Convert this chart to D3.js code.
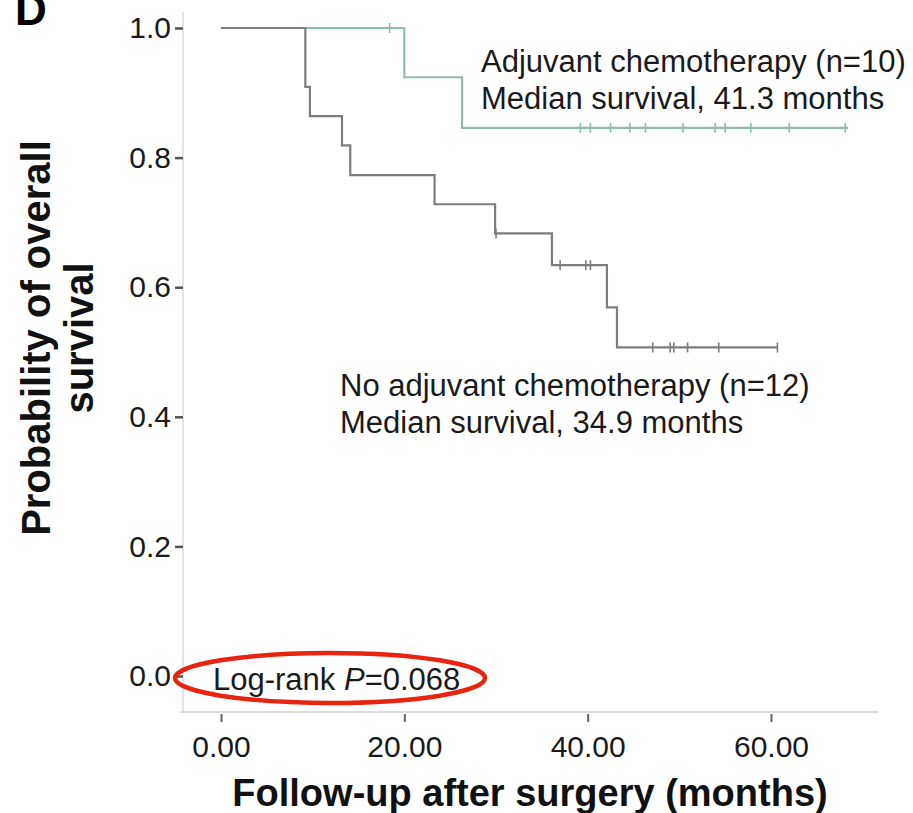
<!DOCTYPE html>
<html>
<head>
<meta charset="utf-8">
<script src="https://cdn.jsdelivr.net/npm/d3@7"></script>
<style>
  html, body { margin: 0; padding: 0; background: #fff; }
  svg { display: block; font-family: "Liberation Sans", Arial, sans-serif; }
</style>
</head>
<body>
<svg id="chart" width="913" height="813"></svg>
<script>
// Kaplan–Meier steps: [month, survival probability after the step]
const adjuvantSteps = [[0, 1.0], [20.0, 0.924], [26.3, 0.846], [68.4, 0.846]];
const adjuvantCensored = [18.4, 39.2, 40.3, 42.5, 44.6, 46.3, 50.4, 53.9, 55.0, 57.8, 62.0, 68.1];

const noAdjuvantSteps = [[0, 1.0], [9.2, 0.909], [9.7, 0.864], [13.2, 0.819], [14.1, 0.773],
  [23.3, 0.728], [29.9, 0.683], [36.1, 0.634], [42.1, 0.569], [43.2, 0.507], [60.7, 0.507]];
const noAdjuvantCensored = [30.0, 37.0, 39.8, 40.3, 47.1, 49.0, 49.4, 50.9, 54.3, 60.7];

const xTicks = [0, 20, 40, 60];
const yTicks = [0, 0.2, 0.4, 0.6, 0.8, 1.0];

const groupLabels = [
  ["Adjuvant chemotherapy (n=10)", "Median survival, 41.3 months"],
  ["No adjuvant chemotherapy (n=12)", "Median survival, 34.9 months"]
];

const svg = d3.select("#chart");
const FONT = "Liberation Sans, Arial, sans-serif";

const x = d3.scaleLinear().domain([0, 60]).range([221, 771]);
const y = d3.scaleLinear().domain([0, 1]).range([676, 28]);

// faint frame lines of the plot area
svg.append("line")
  .attr("x1", 183).attr("x2", 183).attr("y1", 12).attr("y2", 712)
  .attr("stroke", "#e4e4e4").attr("stroke-width", 2);
svg.append("line")
  .attr("x1", 180).attr("x2", 878).attr("y1", 712).attr("y2", 712)
  .attr("stroke", "#dcdcdc").attr("stroke-width", 2);

// y axis: labels followed by short dashes
const yAxis = d3.axisLeft(y).tickValues(yTicks).tickFormat(d3.format(".1f"))
  .tickSize(0).tickPadding(15);
const gy = svg.append("g").attr("transform", "translate(186,0)").call(yAxis);
gy.select(".domain").remove();
gy.selectAll(".tick text").attr("font-size", 30).attr("fill", "#1a1a1a")
  .attr("font-family", FONT);
gy.selectAll(".tick").append("line")
  .attr("x1", -11).attr("x2", -3).attr("stroke", "#555").attr("stroke-width", 2.5);

// x axis
const xAxis = d3.axisBottom(x).tickValues(xTicks).tickFormat(d3.format(".2f"))
  .tickSize(8).tickPadding(14);
const gx = svg.append("g").attr("transform", "translate(0,714)").call(xAxis);
gx.select(".domain").remove();
gx.selectAll(".tick line").attr("stroke", "#666").attr("stroke-width", 2);
gx.selectAll(".tick text").attr("font-size", 30).attr("fill", "#1a1a1a")
  .attr("font-family", FONT);

// survival curves
const step = d3.line().x(d => x(d[0])).y(d => y(d[1])).curve(d3.curveStepAfter);

function survivalAt(steps, t) {
  let s = steps[0][1];
  for (const [m, v] of steps) if (m <= t) s = v;
  return s;
}

function drawGroup(steps, censored, color) {
  svg.append("path").datum(steps)
    .attr("d", step).attr("fill", "none")
    .attr("stroke", color).attr("stroke-width", 2.2);
  svg.append("g").selectAll("line").data(censored).join("line")
    .attr("x1", d => x(d)).attr("x2", d => x(d))
    .attr("y1", d => y(survivalAt(steps, d)) - 5)
    .attr("y2", d => y(survivalAt(steps, d)) + 5)
    .attr("stroke", color).attr("stroke-width", 1.6);
}

drawGroup(adjuvantSteps, adjuvantCensored, "#8fbcab");
drawGroup(noAdjuvantSteps, noAdjuvantCensored, "#7d7d7d");

// group annotations
const annot = [[481, 72], [340, 396]];
groupLabels.forEach((lines, i) => {
  const t = svg.append("text").attr("font-size", 31).attr("fill", "#1a1a1a");
  lines.forEach((s, j) => {
    t.append("tspan").attr("x", annot[i][0]).attr("y", annot[i][1] + j * 37).text(s);
  });
});

// log-rank test result
const lr = svg.append("text").attr("x", 213).attr("y", 690)
  .attr("font-size", 31).attr("fill", "#1a1a1a");
lr.append("tspan").text("Log-rank ");
lr.append("tspan").attr("font-style", "italic").text("P");
lr.append("tspan").text("=0.068");

svg.append("ellipse")
  .attr("cx", 330).attr("cy", 678).attr("rx", 155).attr("ry", 25)
  .attr("fill", "none").attr("stroke", "#e8230f").attr("stroke-width", 4.5);

// axis titles
svg.append("text")
  .attr("transform", "translate(530,806)")
  .attr("text-anchor", "middle").attr("font-size", 38).attr("font-weight", "bold")
  .attr("fill", "#111").text("Follow-up after surgery (months)");

const yt = svg.append("text")
  .attr("transform", "translate(50,338) rotate(-90)")
  .attr("text-anchor", "middle").attr("font-size", 40).attr("font-weight", "bold")
  .attr("fill", "#111");
yt.append("tspan").attr("x", 0).attr("y", 0).text("Probability of overall");
yt.append("tspan").attr("x", 0).attr("y", 43).text("survival");

// panel letter
svg.append("text").attr("x", 15).attr("y", 25)
  .attr("font-size", 44).attr("font-weight", "bold").attr("fill", "#000").text("D");
</script>
</body>
</html>
